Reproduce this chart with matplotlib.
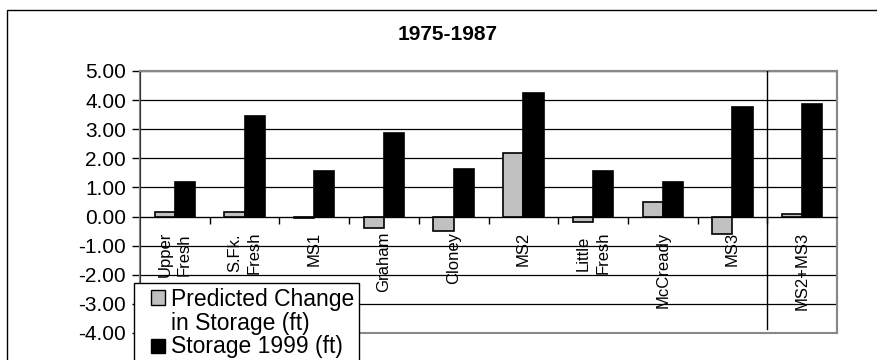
import matplotlib.pyplot as plt
import numpy as np
from matplotlib.patches import Rectangle
from matplotlib.legend_handler import HandlerPatch
from matplotlib.ticker import FixedLocator, FuncFormatter

plt.rcParams['font.family'] = ['Liberation Sans', 'DejaVu Sans']
plt.rcParams['axes.unicode_minus'] = False

# data
sites = ["Upper\nFresh", "S.Fk.\nFresh", "MS1", "Graham", "Cloney", "MS2",
         "Little\nFresh", "McCready", "MS3", "MS2+MS3"]
predicted_change = [0.17, 0.14, -0.06, -0.40, -0.48, 2.18, -0.18, 0.49, -0.59, 0.10]
storage_1999 = [1.20, 3.46, 1.55, 2.86, 1.64, 4.23, 1.55, 1.20, 3.76, 3.87]
yticks = np.arange(-4, 6, 1)

W, H = 878, 360
fig = plt.figure(figsize=(W / 100, H / 100), dpi=100)

# outer chart border (right and bottom run past the image)
fig.add_artist(Rectangle((7 / W, -0.1), 1.2, 1 - 10 / H + 0.1, fill=False,
                         edgecolor='black', linewidth=1.0, transform=fig.transFigure))

ax = fig.add_axes([140 / W, 27 / H, 697 / W, 262 / H])

x = np.arange(len(sites))
w = 0.29
bars_pred = ax.bar(x - w / 2, predicted_change, w, color='#c0c0c0', edgecolor='black',
                   linewidth=1.2, label="Predicted Change\nin Storage (ft)", zorder=3)
bars_stor = ax.bar(x + w / 2, storage_1999, w, color='black', edgecolor='black',
                   linewidth=1.2, label="Storage 1999 (ft)", zorder=3)

ax.set_xlim(-0.5, len(sites) - 0.5)
ax.set_ylim(yticks[0], yticks[-1])
ax.set_yticks(yticks)
ax.yaxis.set_major_formatter(FuncFormatter(lambda v, p: "%.2f" % v))
ax.tick_params(axis='y', direction='out', length=6, width=1, labelsize=15, pad=4)
ax.grid(axis='y', color='black', linewidth=0.9, zorder=0)
ax.set_axisbelow(True)

# category axis sits on the zero line
ax.spines['bottom'].set_position(('data', 0))
ax.spines['bottom'].set_color('black')
ax.spines['bottom'].set_zorder(4)
ax.set_xticks(x)
ax.set_xticklabels(sites, rotation=90, va='top', ha='center',
                   multialignment='center', linespacing=1.35)
ax.xaxis.set_minor_locator(FixedLocator(np.arange(0.5, len(sites) - 0.5, 1)))
ax.tick_params(axis='x', which='major', length=0, labelsize=12, pad=11)
ax.tick_params(axis='x', which='minor', direction='out', length=5, width=1)

for s in ['top', 'right']:
    ax.spines[s].set_color('#888888')
    ax.spines[s].set_linewidth(1.5)
ax.spines['left'].set_color('#333333')
ax.add_patch(Rectangle((0, 0), 1, 1, transform=ax.transAxes, fill=False,
                       edgecolor='#888888', linewidth=1.5, zorder=2.4, clip_on=False))

# divider before the combined MS2+MS3 group
ax.axvline(len(sites) - 1.5, ymin=0.015, ymax=1, color='black', linewidth=1.0, zorder=4)

fig.text(448 / W, 1 - 35 / H, "1975-1987", ha='center', va='center',
         fontsize=15, fontweight='bold')


# square legend keys; the two-line entry keeps its key on the first line
def square_key(lift):
    def make(legend, orig_handle, xdescent, ydescent, width, height, fontsize):
        s = 0.62 * fontsize
        return Rectangle((-xdescent + width - s, -ydescent + lift), s, s)
    return make


def from_bar(handle, orig):
    handle.update_from(orig.patches[0])
    handle.set_linewidth(1.0)


line_pitch = 11.5  # points
leg = ax.legend(loc='upper left', bbox_to_anchor=(134 / W, 1 - 283 / H),
                bbox_transform=fig.transFigure, borderaxespad=0, fontsize=16.5,
                frameon=True, fancybox=False, framealpha=1, edgecolor='black',
                handlelength=1.15, handleheight=0.7, handletextpad=0.25,
                labelspacing=0.0, borderpad=0.2,
                handler_map={
                    bars_pred: HandlerPatch(patch_func=square_key(line_pitch), update_func=from_bar),
                    bars_stor: HandlerPatch(patch_func=square_key(0), update_func=from_bar),
                })
leg.get_frame().set_linewidth(1.0)
leg.set_zorder(10)
for t in leg.get_texts():
    t.set_linespacing(1.1)

fig.savefig("out.png", dpi=100)
